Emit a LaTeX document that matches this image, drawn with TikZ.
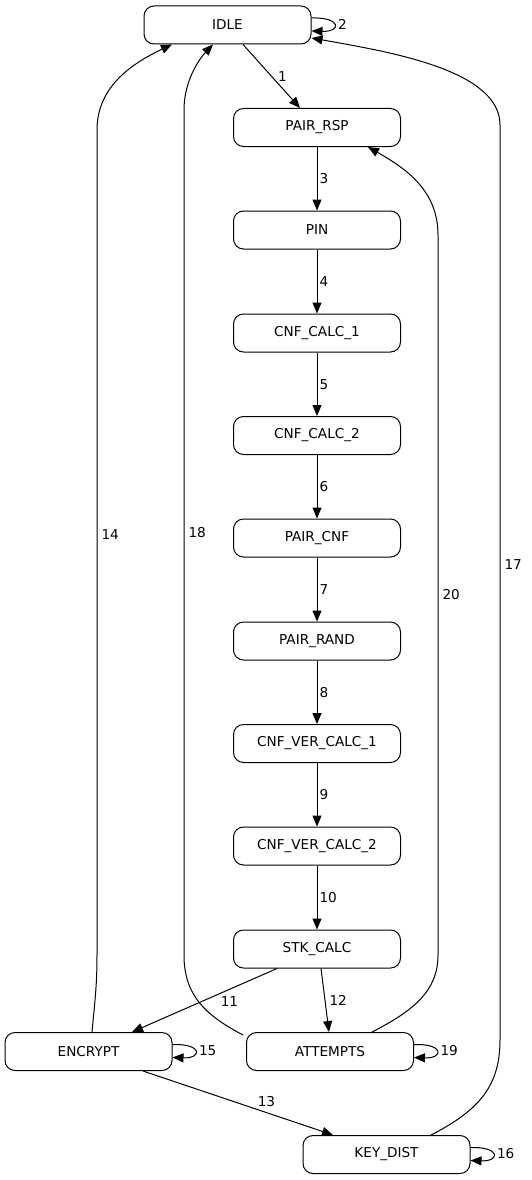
\documentclass[tikz,border=0pt]{standalone}
\usepackage{fontspec}
\setmainfont{DejaVu Sans}
\usetikzlibrary{arrows.meta,calc}
\begin{document}
\begin{tikzpicture}[x=1pt,y=-1pt,
  state/.style={draw, line width=1pt, rounded corners=10pt, minimum width=167pt, minimum height=38pt, inner sep=0pt, font=\fontsize{13.6}{16}\selectfont},
  edge/.style={line width=1pt, -{Triangle[length=11pt,width=9pt]}},
  lbl/.style={font=\fontsize{13.6}{16}\selectfont, inner sep=2pt}]
\useasboundingbox (0,0) rectangle (532,1180);
\node[state] (IDLE) at (227.5,25) {IDLE};
\node[state] (RSP) at (317,127.5) {PAIR\_RSP};
\node[state] (PIN) at (317,230) {PIN};
\node[state] (C1) at (317,333) {CNF\_CALC\_1};
\node[state] (C2) at (317,435.5) {CNF\_CALC\_2};
\node[state] (PCNF) at (317,538) {PAIR\_CNF};
\node[state] (RAND) at (317,641) {PAIR\_RAND};
\node[state] (V1) at (317,743.5) {CNF\_VER\_CALC\_1};
\node[state] (V2) at (317,846) {CNF\_VER\_CALC\_2};
\node[state] (STK) at (317,949) {STK\_CALC};
\node[state] (ENC) at (88.5,1051.5) {ENCRYPT};
\node[state] (ATT) at (330,1051.5) {ATTEMPTS};
\node[state] (KEY) at (386.5,1154.5) {KEY\_DIST};

\draw[edge] ([xshift=15.5pt]IDLE.south) -- node[lbl, right=4pt] {1} ([xshift=-17pt]RSP.north);
\draw[edge] ([yshift=7pt]IDLE.east) .. controls +(30,-1) and +(30,1) .. ([yshift=-6pt]IDLE.east) node[lbl, right=24pt, yshift=6.5pt] {2};
\draw[edge] (RSP) -- node[lbl, right] {3} (PIN);
\draw[edge] (PIN) -- node[lbl, right] {4} (C1);
\draw[edge] (C1) -- node[lbl, right] {5} (C2);
\draw[edge] (C2) -- node[lbl, right] {6} (PCNF);
\draw[edge] (PCNF) -- node[lbl, right] {7} (RAND);
\draw[edge] (RAND) -- node[lbl, right] {8} (V1);
\draw[edge] (V1) -- node[lbl, right] {9} (V2);
\draw[edge] (V2) -- node[lbl, right] {10} (STK);
\draw[edge] ([xshift=-40pt]STK.south) -- node[lbl, xshift=25pt, yshift=-1pt] {11} ([xshift=43.5pt]ENC.north);
\draw[edge] ([xshift=4pt]STK.south) -- node[lbl, right=2pt] {12} ([xshift=-1pt]ATT.north);
\draw[edge] ([xshift=54.5pt]ENC.south) -- node[lbl, pos=0.65, above=3pt] {13} ([xshift=-53.5pt]KEY.north);
\draw[edge] ([xshift=3.5pt]ENC.north) .. controls (95,1000) and (97,985) .. (97,955) -- node[lbl, right=2pt, pos=0.51] {14} (97,130) .. controls (97,85) and (135,62) .. ([xshift=-55.5pt]IDLE.south);
\draw[edge] ([yshift=7pt]ENC.east) .. controls +(30,-1) and +(30,1) .. ([yshift=-6pt]ENC.east) node[lbl, right=24pt, yshift=6.5pt] {15};
\draw[edge] ([yshift=7pt]KEY.east) .. controls +(30,-1) and +(30,1) .. ([yshift=-6pt]KEY.east) node[lbl, right=24pt, yshift=6.5pt] {16};
\draw[edge] ([xshift=44.5pt]KEY.north) .. controls (480,1110) and (500,1085) .. (500,1040) -- node[lbl, right=2pt, pos=0.52] {17} (500,125) .. controls (500,70) and (390,52) .. ([yshift=-13pt]IDLE.east);
\draw[edge] ([xshift=-3pt,yshift=-3pt]ATT.north west) .. controls (205,1015) and (184,995) .. (184,955) -- node[lbl, right=2pt, pos=0.5] {18} (184,110) .. controls (184,80) and (200,58) .. ([xshift=-14.5pt]IDLE.south);
\draw[edge] ([yshift=7pt]ATT.east) .. controls +(30,-1) and +(30,1) .. ([yshift=-6pt]ATT.east) node[lbl, right=24pt, yshift=6.5pt] {19};
\draw[edge] ([xshift=42pt]ATT.north) .. controls (415,1010) and (438,990) .. (438,955) -- node[lbl, right=2pt, pos=0.5] {20} (438,235) .. controls (438,190) and (405,168) .. ([xshift=51pt]RSP.south);
\end{tikzpicture}
\end{document}
